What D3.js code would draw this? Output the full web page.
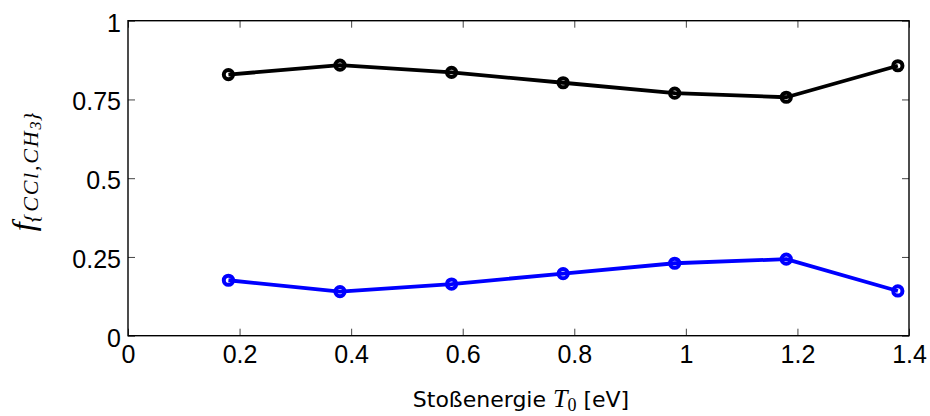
<!DOCTYPE html>
<html>
<head>
<meta charset="utf-8">
<script src="https://cdn.jsdelivr.net/npm/d3@7/dist/d3.min.js"></script>
<style>
  html, body { margin: 0; padding: 0; background: #fff; }
  svg { display: block; }
</style>
</head>
<body>
<svg id="chart" width="930" height="416"></svg>
<script>
// Collision energies (eV) and fragment fractions
const energies = [0.18, 0.38, 0.58, 0.78, 0.98, 1.18, 1.38];
const fracCCl = [0.829, 0.859, 0.836, 0.803, 0.770, 0.757, 0.857];
const fracCH3 = [0.176, 0.140, 0.164, 0.197, 0.230, 0.243, 0.142];
const xTicks = [0, 0.2, 0.4, 0.6, 0.8, 1, 1.2, 1.4];
const xTickLabels = ["0", "0.2", "0.4", "0.6", "0.8", "1", "1.2", "1.4"];
const yTicks = [0, 0.25, 0.5, 0.75, 1];
const yTickLabels = ["0", "0.25", "0.5", "0.75", "1"];

const series = [
  { name: "CCl", values: fracCCl, color: "#000000" },
  { name: "CH3", values: fracCH3, color: "#0000ff" }
];

const svg = d3.select("#chart");
const margin = { left: 128, right: 21, top: 20.7, bottom: 80.3 };
const W = 930, H = 416;

const x = d3.scaleLinear().domain([0, 1.4]).range([margin.left, W - margin.right]);
const y = d3.scaleLinear().domain([0, 1]).range([H - margin.bottom, margin.top]);

const tickLen = 7;
const tickFont = "'Liberation Sans', Arial, Helvetica, sans-serif";

// Inward ticks on all four sides
const g = svg.append("g");
const bottomAxis = d3.axisBottom(x).tickValues(xTicks).tickSize(-tickLen).tickFormat((d, i) => xTickLabels[i]).tickPadding(10);
const topAxis = d3.axisTop(x).tickValues(xTicks).tickSize(-tickLen).tickFormat("");
const leftAxis = d3.axisLeft(y).tickValues(yTicks).tickSize(-tickLen).tickFormat((d, i) => yTickLabels[i]).tickPadding(7);
const rightAxis = d3.axisRight(y).tickValues(yTicks).tickSize(-tickLen).tickFormat("");

function styleAxis(sel) {
  sel.attr("font-size", null).attr("font-family", null);
  sel.select(".domain").remove();
  sel.selectAll(".tick line").attr("stroke", "#444").attr("stroke-width", 1);
  sel.selectAll(".tick text").attr("fill", "#000")
    .style("font-family", tickFont).style("font-size", "25px");
}

g.append("g").attr("transform", `translate(0,${y(0)})`).call(bottomAxis).call(styleAxis)
  .selectAll(".tick text").attr("dy", "0.71em");
g.append("g").attr("transform", `translate(0,${y(1)})`).call(topAxis).call(styleAxis);
g.append("g").attr("transform", `translate(${x(0)},0)`).call(leftAxis).call(styleAxis)
  .selectAll(".tick text").attr("dy", "0.42em");
g.append("g").attr("transform", `translate(${x(1.4)},0)`).call(rightAxis).call(styleAxis);

// Plot frame
svg.append("rect")
  .attr("x", x(0)).attr("y", y(1))
  .attr("width", x(1.4) - x(0)).attr("height", y(0) - y(1))
  .attr("fill", "none").attr("stroke", "#000").attr("stroke-width", 1.4);

// Lines and circle markers
const line = d3.line().x((d, i) => x(energies[i])).y(d => y(d));
series.forEach(s => {
  svg.append("path")
    .datum(s.values)
    .attr("d", line)
    .attr("fill", "none")
    .attr("stroke", s.color)
    .attr("stroke-width", 3.8)
    .attr("stroke-linejoin", "round");
  svg.append("g").selectAll("circle")
    .data(s.values)
    .join("circle")
    .attr("cx", (d, i) => x(energies[i]))
    .attr("cy", d => y(d))
    .attr("r", 4.6)
    .attr("fill", "none")
    .attr("stroke", s.color)
    .attr("stroke-width", 4);
});

// X axis label
const xl = svg.append("text")
  .attr("x", 521).attr("y", 407)
  .attr("text-anchor", "middle")
  .style("font-family", "'DejaVu Sans', sans-serif")
  .style("font-size", "22px")
  .attr("fill", "#000");
xl.append("tspan").text("Stoßenergie ");
xl.append("tspan").style("font-family", "'Liberation Serif', serif").style("font-style", "italic").style("font-size", "26px").text("T");
xl.append("tspan").style("font-family", "'Liberation Serif', serif").style("font-size", "18px").attr("dy", 4).text("0");
xl.append("tspan").attr("dy", -4).text(" [eV]");

// Y axis label
const yl = svg.append("text")
  .attr("transform", "translate(34,172) rotate(-90)")
  .attr("text-anchor", "middle")
  .style("font-family", "'Liberation Serif', serif")
  .style("font-style", "italic")
  .attr("fill", "#000");
yl.append("tspan").style("font-size", "32px").text("f");
yl.append("tspan").style("font-size", "22px").style("letter-spacing", "1.8px").attr("dy", 4).text("{CCl,CH");
yl.append("tspan").style("font-size", "16px").attr("dy", 3).text("3");
yl.append("tspan").style("font-size", "22px").attr("dy", -3).text("}");
</script>
</body>
</html>
